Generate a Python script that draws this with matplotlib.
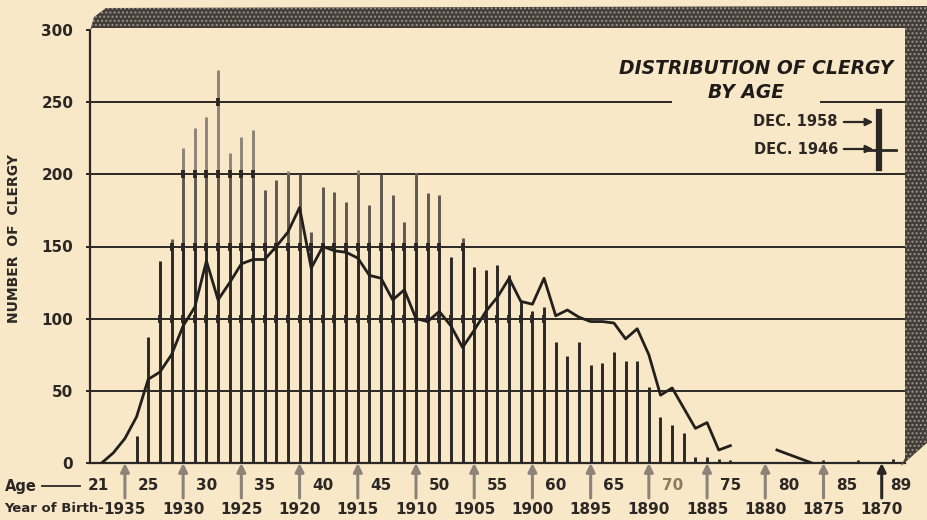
import matplotlib
matplotlib.use("Agg")  # headless rendering
import matplotlib.pyplot as plt
import matplotlib.transforms as mtransforms
from matplotlib.lines import Line2D
from matplotlib.patches import Polygon, FancyArrowPatch
import numpy as np

# ---- data ----
ages = list(range(21, 90))
clergy_1958 = [
    0, 0, 0, 19, 87, 140, 155, 218, 232, 240,      # 21-30
    272, 215, 226, 231, 189, 196, 202, 200, 160, 191,  # 31-40
    188, 181, 203, 179, 200, 186, 167, 201, 187, 186,  # 41-50
    143, 156, 136, 134, 137, 130, 112, 105, 108, 84,   # 51-60
    74, 84, 68, 69, 77, 71, 71, 53, 32, 26,            # 61-70
    21, 4, 4, 3, 2, 0, 0, 0, 0, 0,                     # 71-80
    0, 0, 2, 0, 0, 2, 0, 0, 3,                         # 81-89
]

line_ages = list(range(21, 83))
clergy_1946 = [
    0, 7, 17, 32, 58, 63, 75, 95, 108, 140,           # 21-30
    113, 125, 138, 141, 141, 150, 160, 177, 135, 150,  # 31-40
    147, 146, 142, 130, 128, 113, 120, 100, 98, 105,   # 41-50
    95, 80, 92, 105, 115, 128, 112, 110, 128, 102,     # 51-60
    106, 101, 98, 98, 97, 86, 93, 75, 47, 52,          # 61-70
    38, 24, 28, 9, 12, np.nan, np.nan, np.nan, 9, 6,   # 71-80
    3, 0,                                              # 81-82
]

y_ticks = [0, 50, 100, 150, 200, 250, 300]
age_labels = [21, 25, 30, 35, 40, 45, 50, 55, 60, 65, 70, 75, 80, 85, 89]
birth_ages = [23, 28, 33, 38, 43, 48, 53, 58, 63, 68, 73, 78, 83, 88]
birth_years = [1935, 1930, 1925, 1920, 1915, 1910, 1905, 1900,
               1895, 1890, 1885, 1880, 1875, 1870]

# ---- styling ----
W, H = 928, 520
BG = "#f8e8c8"
INK = "#2b2724"
MID = "#5f5850"
GREY = "#8d8479"


def fx(px):
    return px / W


def fy(py):
    return 1 - py / H


fig = plt.figure(figsize=(W / 100, H / 100), dpi=100)
fig.patch.set_facecolor(BG)
ax = fig.add_axes([fx(90), fy(463), 815 / W, 433 / H])
ax.set_facecolor(BG)
ax.set_xlim(20, 90)
ax.set_ylim(0, 300)

for side in ("top", "right"):
    ax.spines[side].set_visible(False)
for side in ("left", "bottom"):
    ax.spines[side].set_color(INK)
    ax.spines[side].set_linewidth(1.6)

ax.set_xticks([])
ax.set_yticks(y_ticks)
ax.set_yticklabels([str(v) for v in y_ticks], fontsize=11, fontweight="bold", color=INK)
ax.tick_params(axis="y", length=3, width=1.4, color=INK, pad=9)

# horizontal rules (the 250 rule breaks around the title)
for g in (50, 100, 150, 200):
    ax.hlines(g, 19.75, 90, color=INK, lw=1.4, clip_on=False, zorder=2)
ax.hlines(250, 19.75, 70.0, color=INK, lw=1.4, clip_on=False, zorder=2)
ax.hlines(250, 82.7, 90, color=INK, lw=1.4, clip_on=False, zorder=2)

# bars (Dec. 1958), darker in the lower part as printed
vals = np.array(clergy_1958, dtype=float)
xa = np.array(ages, dtype=float)
ax.vlines(xa, 0, np.minimum(vals, 150), color=INK, lw=2.1, zorder=3)
m = vals > 150
ax.vlines(xa[m], 150, np.minimum(vals[m], 200), color=MID, lw=2.1, zorder=3)
m = vals > 200
ax.vlines(xa[m], 200, vals[m], color=GREY, lw=2.1, zorder=3)

# little crosses where bars pass through the rules
for g in (100, 150, 200, 250):
    m = vals > g + 3
    ax.plot(xa[m], [g] * int(m.sum()), ls="none", marker="|", ms=6, mew=2.8,
            color=INK, zorder=4)

# line (Dec. 1946)
ax.plot(line_ages, clergy_1946, color="#221f1c", lw=2.0, zorder=5)

# ---- border band (top + right) ----
band = Polygon(
    [(fx(90), fy(31)), (fx(94), fy(17)), (fx(106), fy(8)), (fx(928), fy(6)),
     (fx(928), fy(442)), (fx(901), fy(466)), (fx(905), fy(458)),
     (fx(905), fy(28)), (fx(92), fy(28))],
    closed=True, transform=fig.transFigure, facecolor="#423d38",
    edgecolor="#9d9488", hatch="....", lw=0,
)
fig.add_artist(band)

# ---- axis titles ----
fig.text(fx(14), fy(239), "NUMBER  OF  CLERGY", rotation=90, ha="center",
         va="center", fontsize=10, fontweight="bold", color=INK)

trans = mtransforms.blended_transform_factory(ax.transData, fig.transFigure)

fig.text(fx(5), fy(486), "Age", ha="left", va="center", fontsize=10.5,
         fontweight="bold", color=INK)
fig.add_artist(Line2D([fx(42), fx(80)], [fy(486), fy(486)], color=INK, lw=1.3,
                      transform=fig.transFigure))
for a in age_labels:
    xpos = a
    if a == 21:
        xpos = 20.7
    elif a == 89:
        xpos = 89.6
    colour = "#8a7a5e" if a == 70 else INK
    ax.text(xpos, fy(486), str(a), transform=trans, ha="center", va="center",
            fontsize=11, fontweight="bold", color=colour)

fig.text(fx(104), fy(509), "Year of Birth-", ha="right", va="center",
         fontsize=9.5, fontweight="bold", color=INK)
for a, yr in zip(birth_ages, birth_years):
    ax.text(a, fy(509), str(yr), transform=trans, ha="center", va="center",
            fontsize=11, fontweight="bold", color=INK)
    ax.annotate("", xy=(a, 0), xycoords="data", xytext=(a, fy(498)),
                textcoords=trans, annotation_clip=False,
                arrowprops=dict(arrowstyle="-|>,head_width=0.25,head_length=0.5",
                                lw=2.2, color=INK if yr == 1870 else GREY,
                                shrinkA=0, shrinkB=0))

# ---- title and key ----
fig.text(fx(756), fy(68), "DISTRIBUTION OF CLERGY", ha="center", va="center",
         fontsize=13.5, fontweight="bold", style="italic", color="#1e1b18")
fig.text(fx(746), fy(93), "BY AGE", ha="center", va="center",
         fontsize=13.5, fontweight="bold", style="italic", color="#1e1b18")

fig.text(fx(838), fy(122), "DEC. 1958", ha="right", va="center", fontsize=10.5,
         fontweight="bold", color=INK)
fig.text(fx(838), fy(149), "DEC. 1946", ha="right", va="center", fontsize=10.5,
         fontweight="bold", color=INK)
for yy in (122, 149):
    fig.add_artist(FancyArrowPatch((fx(841), fy(yy)), (fx(876), fy(yy)),
                                   transform=fig.transFigure, arrowstyle="-|>",
                                   mutation_scale=11, lw=1.6, color=INK))
fig.add_artist(Line2D([fx(879), fx(879)], [fy(112), fy(168)], color=INK, lw=4.5,
                      transform=fig.transFigure))
fig.add_artist(Line2D([fx(868), fx(896)], [fy(150), fy(150)], color=INK, lw=2,
                      transform=fig.transFigure))

fig.savefig("out.png", dpi=100, facecolor=fig.get_facecolor())
plt.close(fig)
